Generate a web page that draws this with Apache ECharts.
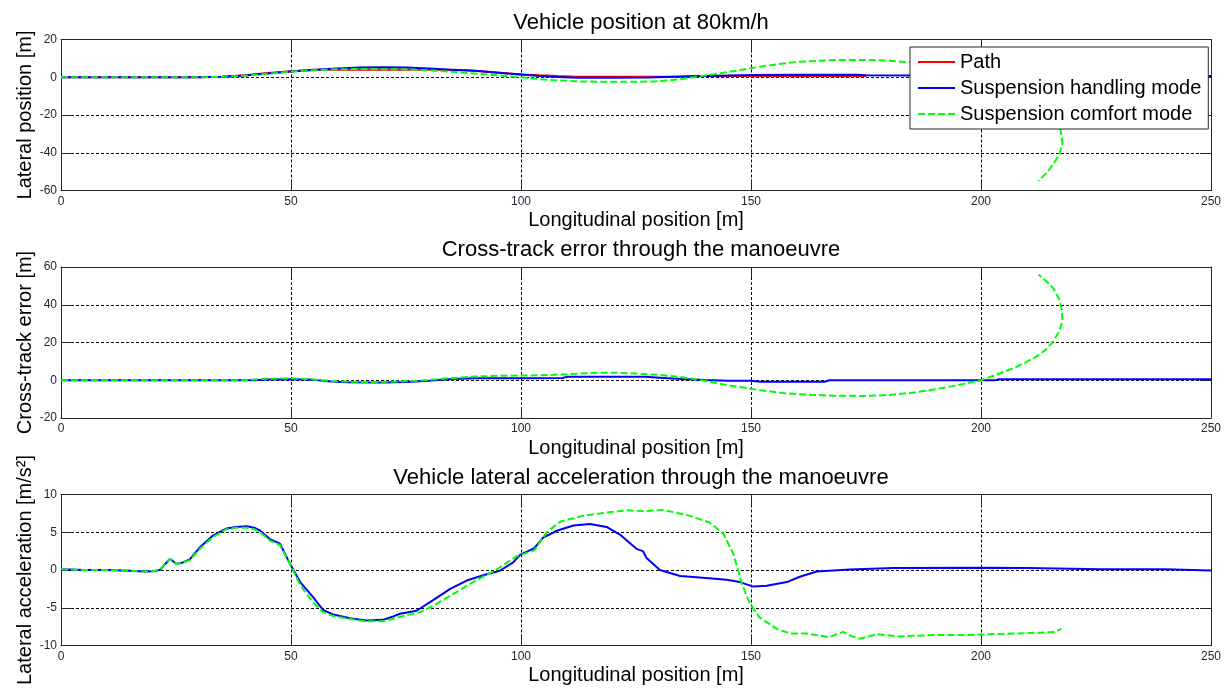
<!DOCTYPE html>
<html>
<head>
<meta charset="utf-8">
<title>Vehicle manoeuvre at 80km/h</title>
<script src="https://cdn.jsdelivr.net/npm/echarts@6/dist/echarts.min.js"></script>
<style>
  html, body { margin: 0; padding: 0; background: #fff; }
  #chart { width: 1229px; height: 691px; }
</style>
</head>
<body>
<div id="chart"></div>
<script>
// ---- axis ticks ----
const xTicks = [0, 50, 100, 150, 200, 250];
const posTicks = [-60, -40, -20, 0, 20];
const cteTicks = [-20, 0, 20, 40, 60];
const accTicks = [-10, -5, 0, 5, 10];

// ---- series names ----
const pathName = 'Path';
const handlingName = 'Suspension handling mode';
const comfortName = 'Suspension comfort mode';

// ---- vehicle position [longitudinal m, lateral m] ----
const pathPosition = [
  [0, 0], [30, 0], [35, 0.3], [40, 1.1], [45, 2.2], [50, 3.2], [55, 3.8], [60, 4.0], [70, 4.1],
  [80, 4.0], [88, 3.7], [92, 3.0], [96, 2.2], [100, 1.5], [104, 1.0], [108, 0.6], [112, 0.3],
  [120, 0.2], [130, 0.2], [135, 0.4], [140, 0.7], [145, 0.8], [150, 0.7], [160, 0.6], [175, 0.6]
];
const handlingPosition = [
  [0, 0], [30, 0], [35, 0.3], [40, 0.9], [45, 2.0], [50, 3.1], [55, 4.0], [60, 4.7], [65, 5.2],
  [70, 5.3], [75, 5.2], [80, 4.6], [85, 4.0], [90, 3.4], [95, 2.4], [100, 1.4], [104, 0.6],
  [108, 0.1], [112, -0.2], [120, -0.2], [128, -0.1], [133, 0.2], [138, 0.5], [145, 0.9],
  [150, 1.2], [160, 1.3], [173, 1.3], [175, 1.0], [200, 0.8], [250, 0.6]
];
const comfortPosition = [
  [0, 0], [30, 0], [35, 0.2], [40, 0.8], [45, 1.8], [50, 3.0], [55, 3.7], [60, 4.2], [65, 4.4],
  [70, 4.3], [75, 4.2], [80, 3.6], [85, 2.9], [90, 2.0], [95, 1.0], [100, 0.0], [104, -1.0],
  [108, -1.7], [113, -2.2], [118, -2.4], [124, -2.4], [129, -2.2], [132, -1.7], [135, -1.0],
  [138, 0.2], [142, 1.6], [147, 3.5], [152, 5.6], [156, 7.0], [160, 8.1], [165, 8.8], [170, 9.2],
  [175, 9.2], [180, 8.8], [184, 8.0], [190, 6.5], [196, 4.0], [201, 0.5], [205, -3.5], [209, -9],
  [213, -16], [216, -23], [217.3, -28], [217.7, -35], [217.0, -41], [216.0, -45], [214.5, -50],
  [212.5, -55]
];

// ---- cross-track error [longitudinal m, error m] ----
const handlingError = [
  [0, 0], [42, 0], [45, 0.4], [50, 0.5], [55, 0.2], [58, -0.5], [62, -1.0], [70, -1.2], [75, -0.9],
  [80, -0.2], [85, 0.6], [90, 1.0], [100, 1.1], [109, 1.2], [110, 1.8], [127, 1.8], [131, 1.2],
  [135, 0.6], [140, 0.1], [145, -0.2], [150, -0.3], [152, -0.8], [166, -0.8], [167, 0], [203, 0],
  [204, 0.5], [250, 0.5]
];
const comfortError = [
  [0, 0], [40, 0], [44, 0.8], [50, 1.0], [54, 0.6], [58, -0.3], [65, -1.0], [72, -0.8], [78, -0.2],
  [84, 1.0], [90, 2.0], [96, 2.4], [104, 2.6], [110, 3.2], [115, 3.8], [120, 4.0], [125, 3.6],
  [130, 2.8], [134, 1.9], [138, 0.6], [141, -0.8], [144, -2.3], [148, -3.7], [152, -5.3],
  [157, -6.8], [162, -7.6], [168, -8.2], [175, -8.3], [180, -7.8], [185, -6.6], [190, -4.8],
  [195, -2.6], [200, 0], [204, 3.6], [207, 6.3], [209.5, 9.2], [212, 12.5], [214, 16], [215.5, 20],
  [216.8, 25], [217.7, 31], [217.6, 37], [217, 43], [215.7, 48.7], [214.2, 52.5], [212.5, 56]
];

// ---- lateral acceleration [longitudinal m, m/s^2] ----
const handlingAccel = [
  [0, 0.1], [5, 0], [10, 0], [15, -0.1], [18, -0.2], [20, -0.15], [21.5, 0], [23.7, 1.5],
  [25.1, 0.8], [26.5, 1.0], [28, 1.4], [30.2, 3.0], [33.1, 4.6], [36, 5.5], [38, 5.7], [40.4, 5.8],
  [42, 5.6], [43.3, 5.2], [45.4, 4.1], [47.6, 3.5], [49.8, 0.8], [52, -1.6], [54.8, -3.6],
  [57, -5.3], [59.2, -5.9], [62.8, -6.4], [66.4, -6.7], [70, -6.6], [72, -6.2], [73.7, -5.8],
  [77.3, -5.4], [80.9, -4.0], [84.6, -2.5], [88.2, -1.4], [91.8, -0.7], [95.4, -0.1], [98.3, 1.0],
  [99.8, 2.0], [102.9, 2.9], [104.8, 4.3], [107.8, 5.2], [111.4, 5.9], [115, 6.1], [118.6, 5.7],
  [121.5, 4.7], [125.1, 2.8], [126.5, 2.5], [127.3, 1.6], [130.2, 0.0], [134.6, -0.8],
  [138.9, -1.0], [144.7, -1.3], [147.6, -1.6], [150.5, -2.2], [153.4, -2.1], [157.8, -1.6],
  [160.6, -0.9], [164.3, -0.2], [171.5, 0.05], [181, 0.25], [200, 0.3], [210, 0.25], [226, 0.1],
  [240, 0.1], [250, -0.05]
];
const comfortAccel = [
  [0, 0.1], [5, 0], [10, 0], [15, -0.1], [18, -0.2], [20, -0.15], [21.5, 0], [23.7, 1.5],
  [25.1, 0.8], [26.5, 1.0], [28, 1.3], [30.2, 2.8], [33.1, 4.4], [36, 5.4], [38, 5.6], [40.4, 5.6],
  [42, 5.4], [43.3, 5.0], [45.4, 3.9], [47.6, 3.3], [49.8, 0.8], [52, -2.0], [54.8, -4.3],
  [57, -5.6], [59.2, -6.1], [62.8, -6.5], [66.4, -6.8], [70, -6.8], [73.7, -6.2], [78, -5.6],
  [81, -4.7], [84.6, -3.4], [89.6, -1.6], [94.8, 0.1], [99, 1.8], [102.9, 2.6], [105.6, 5.0],
  [108.5, 6.4], [113.5, 7.2], [118.6, 7.6], [123, 7.9], [126.7, 7.8], [130.9, 7.95], [136, 7.3],
  [141, 6.3], [144, 4.8], [146.2, 2.1], [148, -1.8], [149.8, -4.5], [151.9, -6.3], [155.6, -7.8],
  [158.5, -8.4], [162, -8.4], [165, -8.7], [167, -8.9], [170, -8.2], [172, -8.8], [173.7, -9.1],
  [177.3, -8.5], [182.4, -8.8], [190, -8.6], [196.9, -8.6], [207.8, -8.4], [212.8, -8.3],
  [216, -8.2], [217.5, -7.8]
];

// ---- layout & styling ----
const FONT = 'Liberation Sans, Arial, sans-serif';
const plotLeft = 61, plotRight = 1211, plotHeight = 151;
const plotTops = [39.5, 267, 494.5];
const tickLen = 11;
const boxColor = '#262626';

const panels = [
  { title: 'Vehicle position at 80km/h', yName: 'Lateral position [m]', ticks: posTicks },
  { title: 'Cross-track error through the manoeuvre', yName: 'Cross-track error [m]', ticks: cteTicks },
  { title: 'Vehicle lateral acceleration through the manoeuvre', yName: 'Lateral acceleration [m/s²]', ticks: accTicks }
];

const grids = [], xAxes = [], yAxes = [], titles = [];
panels.forEach((p, i) => {
  grids.push({ left: plotLeft, width: plotRight - plotLeft, top: plotTops[i], height: plotHeight, containLabel: false });
  titles.push({
    text: p.title, left: (plotLeft + plotRight) / 2, textAlign: 'center', top: plotTops[i] - 33,
    textStyle: { fontFamily: FONT, fontSize: 22, fontWeight: 'normal', color: '#000' }
  });
  const xMin = xTicks[0], xMax = xTicks[xTicks.length - 1], xStep = xTicks[1] - xTicks[0];
  const yMin = p.ticks[0], yMax = p.ticks[p.ticks.length - 1], yStep = p.ticks[1] - p.ticks[0];
  const lineCommon = { show: true, onZero: false, lineStyle: { color: boxColor, width: 1 } };
  const tickCommon = { show: true, inside: true, length: tickLen, lineStyle: { color: boxColor, width: 1 } };
  xAxes.push({
    type: 'value', gridIndex: i, position: 'bottom', min: xMin, max: xMax, interval: xStep,
    name: 'Longitudinal position [m]', nameLocation: 'middle', nameGap: 20, nameMoveOverlap: false,
    nameTextStyle: { fontFamily: FONT, fontSize: 20, color: '#000' },
    axisLine: lineCommon, axisTick: tickCommon,
    axisLabel: { fontFamily: FONT, fontSize: 12, color: '#262633', margin: 5 },
    splitLine: { show: true, lineStyle: { color: '#000', width: 1, type: [3, 2] } }
  });
  xAxes.push({
    type: 'value', gridIndex: i, position: 'top', min: xMin, max: xMax, interval: xStep,
    axisLine: lineCommon, axisTick: tickCommon, axisLabel: { show: false }, splitLine: { show: false }
  });
  yAxes.push({
    type: 'value', gridIndex: i, position: 'left', min: yMin, max: yMax, interval: yStep,
    name: p.yName, nameLocation: 'middle', nameGap: 26, nameRotate: 90, nameMoveOverlap: false,
    nameTextStyle: { fontFamily: FONT, fontSize: 20, color: '#000' },
    axisLine: lineCommon, axisTick: tickCommon,
    axisLabel: { fontFamily: FONT, fontSize: 12, color: '#262633', margin: 4 },
    splitLine: { show: true, lineStyle: { color: '#000', width: 1, type: [3, 2] } }
  });
  yAxes.push({
    type: 'value', gridIndex: i, position: 'right', min: yMin, max: yMax, interval: yStep,
    axisLine: lineCommon, axisTick: tickCommon, axisLabel: { show: false }, splitLine: { show: false }
  });
});

function lineSeries(name, data, panel, color, dashed) {
  return {
    name: name, type: 'line', data: data,
    xAxisIndex: panel * 2, yAxisIndex: panel * 2,
    symbol: 'none', showSymbol: false, smooth: false, clip: true,
    lineStyle: { color: color, width: 2, type: dashed ? [7, 3] : 'solid' },
    itemStyle: { color: color },
    emphasis: { disabled: true }
  };
}

const series = [
  lineSeries(pathName, pathPosition, 0, '#ff0000', false),
  lineSeries(handlingName, handlingPosition, 0, '#0000ff', false),
  lineSeries(comfortName, comfortPosition, 0, '#00ff00', true),
  lineSeries(handlingName, handlingError, 1, '#0000ff', false),
  lineSeries(comfortName, comfortError, 1, '#00ff00', true),
  lineSeries(handlingName, handlingAccel, 2, '#0000ff', false),
  lineSeries(comfortName, comfortAccel, 2, '#00ff00', true)
];

const chart = echarts.init(document.getElementById('chart'), null, { renderer: 'canvas' });
chart.setOption({
  backgroundColor: '#ffffff',
  animation: false,
  title: titles,
  grid: grids,
  xAxis: xAxes,
  yAxis: yAxes,
  legend: {
    data: [pathName, handlingName, comfortName],
    orient: 'vertical', left: 910, top: 47,
    itemWidth: 37, itemHeight: 20, itemGap: 6,
    padding: [5, 7, 5, 7],
    // legend keys are plain line samples, no markers
    itemStyle: { color: 'rgba(0,0,0,0)', borderWidth: 0, opacity: 0 },
    backgroundColor: '#ffffff', borderColor: '#262626', borderWidth: 1, borderRadius: 0,
    textStyle: { fontFamily: FONT, fontSize: 20, color: '#000', padding: [0, 0, 0, 0] },
    selectedMode: false, z: 10
  },
  series: series
});
</script>
</body>
</html>
